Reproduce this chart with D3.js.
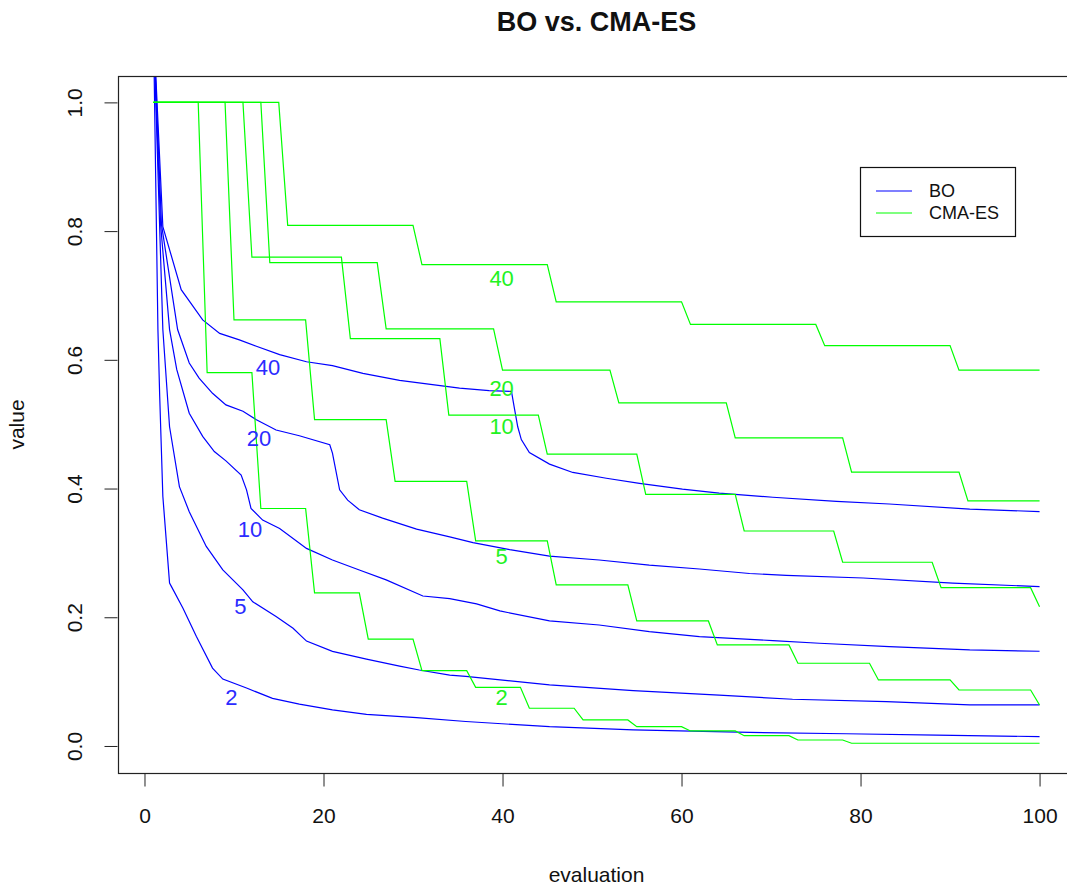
<!DOCTYPE html>
<html>
  <head>
    <meta charset="utf-8">
    <title>BO vs. CMA-ES</title>
    <style>
      body { margin: 0; background: #fff; }
      text { font-family: "Liberation Sans", Arial, sans-serif; }
    </style>
  </head>
  <body>
    <div id="vis"></div>
    <script src="https://d3js.org/d3.v7.min.js"></script>
    <script>
    // dimensions of the runs, one curve per dimension and method
    let dims = [2, 5, 10, 20, 40];

    // BO: [evaluation, value]
    let bo2 = [[1,1.12],[1.5,0.647],[1.7,0.543],[2.05,0.388],[2.8,0.253],[3,0.248],[4.3,0.214],[5.8,0.170],
      [7.6,0.121],[8.75,0.104],[11.4,0.090],[14.3,0.074],[17.3,0.065],[21,0.056],[24.8,0.049],[30.4,0.044],
      [35.9,0.038],[45.25,0.030],[54.6,0.025],[67.6,0.021],[78.4,0.019],[88.5,0.017],[100,0.0145]];
    let bo5 = [[1,1.12],[2.05,0.647],[2.8,0.496],[3.9,0.403],[5,0.364],[6.9,0.310],[8.75,0.2735],[11,0.2425],
      [12.1,0.224],[14.7,0.201],[16.6,0.183],[18.1,0.163],[21,0.147],[24.8,0.135],[28.5,0.124],[30.7,0.118],
      [34.1,0.110],[35.9,0.108],[45.25,0.095],[54.6,0.086],[64.2,0.079],[72.4,0.0726],[82.9,0.069],
      [92.2,0.064],[100,0.0637]];
    let bo10 = [[1,1.12],[1.8,0.81],[2.8,0.647],[3.6,0.585],[5,0.517],[6.5,0.481],[7.8,0.4575],[9.1,0.443],
      [10.8,0.421],[11.4,0.398],[11.9,0.369],[13.2,0.351],[15.1,0.338],[18.1,0.307],[21,0.289],[24,0.2735],
      [27,0.258],[31.1,0.233],[34.1,0.229],[37.1,0.2207],[39.7,0.2098],[45.25,0.1943],[50.8,0.188],
      [56.4,0.1777],[62,0.170],[70.2,0.1637],[75.4,0.1596],[83.2,0.1543],[92.2,0.1492],[100,0.1472]];
    let bo20 = [[1,1.12],[1.9,0.81],[3.7,0.647],[5,0.595],[6.1,0.5715],[7.6,0.548],[9.1,0.530],[11,0.520],
      [12.5,0.507],[14.7,0.491],[17.3,0.482],[20.7,0.468],[21,0.455],[21.8,0.398],[22.7,0.382],[24,0.367],
      [26.6,0.354],[30.4,0.337],[34.1,0.325],[36.7,0.316],[40.8,0.305],[45.25,0.295],[50.8,0.289],
      [56.4,0.281],[62,0.275],[67.6,0.268],[71.7,0.265],[80.3,0.261],[90.3,0.253],[100,0.2476]];
    let bo40 = [[1,1.12],[2.05,0.807],[4.1,0.709],[6.5,0.662],[8.4,0.641],[10.6,0.631],[12.5,0.621],
      [15.1,0.608],[18.1,0.597],[21,0.591],[24.4,0.579],[28.5,0.568],[35.2,0.556],[38.5,0.552],[41,0.551],
      [41.3,0.527],[41.7,0.496],[42.1,0.476],[43,0.456],[45.25,0.438],[47.85,0.425],[51.6,0.416],
      [55.3,0.408],[60.1,0.399],[64.2,0.393],[70.2,0.3865],[77.3,0.380],[83.2,0.376],[92.2,0.368],[100,0.3642]];

    // CMA-ES: best value so far, changes once per generation
    let cma2 = [[1,1],[6,1],[7,0.580],[12,0.580],[13,0.369],[18,0.369],[19,0.238],[24,0.238],[25,0.166],
      [30,0.166],[31,0.117],[36,0.117],[37,0.0912],[42,0.0912],[43,0.0586],[48,0.0586],[49,0.0404],
      [54,0.0404],[55,0.030],[60,0.030],[61,0.0233],[66,0.0233],[67,0.016],[72,0.016],[73,0.0093],
      [78,0.0093],[79,0.0042],[100,0.0042]];
    let cma5 = [[1,1],[9,1],[10,0.662],[18,0.662],[19,0.507],[27,0.507],[28,0.411],[36,0.411],[37,0.3186],
      [45,0.3186],[46,0.2502],[54,0.2502],[55,0.1943],[63,0.1943],[64,0.157],[72,0.157],[73,0.1285],
      [81,0.1285],[82,0.1026],[90,0.1026],[91,0.087],[99,0.087],[100,0.0637]];
    let cma10 = [[1,1],[11,1],[12,0.7595],[22,0.7595],[23,0.633],[33,0.633],[34,0.514],[44,0.514],
      [45,0.4534],[55,0.4534],[56,0.391],[66,0.391],[67,0.334],[77,0.334],[78,0.2855],[88,0.2855],
      [89,0.246],[99,0.246],[100,0.2165]];
    let cma20 = [[1,1],[13,1],[14,0.751],[26,0.751],[27,0.648],[39,0.648],[40,0.584],[52,0.584],
      [53,0.533],[65,0.533],[66,0.4787],[78,0.4787],[79,0.4254],[91,0.4254],[92,0.3808],[100,0.3808]];
    let cma40 = [[1,1],[15,1],[16,0.809],[30,0.809],[31,0.748],[45,0.748],[46,0.690],[60,0.690],
      [61,0.655],[75,0.655],[76,0.622],[90,0.622],[91,0.584],[100,0.584]];

    // where the dimension labels sit: [evaluation, value]
    let boLabelPos = [[9.7,0.076],[10.7,0.216],[11.8,0.337],[12.8,0.477],[13.8,0.5875]];
    let cmaLabelPos = [[39.9,0.076],[39.9,0.294],[39.9,0.496],[39.9,0.556],[39.9,0.727]];

    let xTicks = [0, 20, 40, 60, 80, 100];
    let yTicks = [0, 0.2, 0.4, 0.6, 0.8, 1.0];
    let methods = ["BO", "CMA-ES"];
    let colors = ["#0000ff", "#00ff00"];

    let boSeries = [bo2, bo5, bo10, bo20, bo40];
    let cmaSeries = [cma2, cma5, cma10, cma20, cma40];

    let w = 1067, h = 887;
    let mLeft = 118, mRight = 1075, mTop = 76, mBottom = 773;

    let x = d3.scaleLinear().domain([-2.96, 103.96]).range([mLeft, mRight]);
    let y = d3.scaleLinear().domain([-0.042, 1.041]).range([mBottom, mTop]);

    let svg = d3.select("#vis").append("svg")
                .attr("width", w)
                .attr("height", h)
                .style("background", "#fff");

    svg.append("clipPath").attr("id", "plotclip")
       .append("rect")
       .attr("x", mLeft).attr("y", mTop)
       .attr("width", mRight - mLeft).attr("height", mBottom - mTop);

    let line = d3.line()
                 .x(function(d) { return x(d[0]); })
                 .y(function(d) { return y(d[1]); });

    let plot = svg.append("g").attr("clip-path", "url(#plotclip)");

    plot.selectAll("path.bo")
        .data(boSeries)
        .enter().append("path")
        .attr("class", "bo")
        .attr("d", line)
        .style("fill", "none")
        .style("stroke", colors[0])
        .style("stroke-width", 1.2);

    plot.selectAll("path.cma")
        .data(cmaSeries)
        .enter().append("path")
        .attr("class", "cma")
        .attr("d", line)
        .style("fill", "none")
        .style("stroke", colors[1])
        .style("stroke-width", 1.2);

    // dimension labels
    plot.selectAll("text.bolab")
        .data(boLabelPos)
        .enter().append("text")
        .attr("class", "bolab")
        .attr("x", function(d) { return x(d[0]); })
        .attr("y", function(d) { return y(d[1]); })
        .attr("text-anchor", "middle")
        .attr("dominant-baseline", "central")
        .style("font-size", "22px")
        .style("fill", "#2b2bff")
        .text(function(d, i) { return dims[i]; });

    plot.selectAll("text.cmalab")
        .data(cmaLabelPos)
        .enter().append("text")
        .attr("class", "cmalab")
        .attr("x", function(d) { return x(d[0]); })
        .attr("y", function(d) { return y(d[1]); })
        .attr("text-anchor", "middle")
        .attr("dominant-baseline", "central")
        .style("font-size", "22px")
        .style("fill", "#22f222")
        .text(function(d, i) { return dims[i]; });

    // box
    svg.append("rect")
       .attr("x", mLeft + 0.5).attr("y", mTop + 0.5)
       .attr("width", mRight - mLeft).attr("height", mBottom - mTop)
       .style("fill", "none")
       .style("stroke", "#222")
       .style("stroke-width", 1.2);

    // axes, R style: ticks outside, no domain line
    let xAxis = svg.append("g")
       .attr("transform", "translate(0," + (mBottom + 0.5) + ")")
       .call(d3.axisBottom(x).tickValues(xTicks).tickSize(13).tickPadding(22).tickFormat(d3.format("d")));
    xAxis.select(".domain").remove();
    xAxis.selectAll("text").style("font-size", "21px").style("fill", "#111")
         .style("font-family", "'Liberation Sans', Arial, sans-serif");
    xAxis.selectAll("line").style("stroke", "#222");

    let yAxis = svg.append("g")
       .attr("transform", "translate(" + (mLeft - 0.5) + ",0)")
       .call(d3.axisLeft(y).tickValues(yTicks).tickSize(13).tickFormat(d3.format(".1f")));
    yAxis.select(".domain").remove();
    yAxis.selectAll("line").style("stroke", "#222");
    yAxis.selectAll("text")
         .attr("x", null).attr("dy", null)
         .attr("text-anchor", "middle")
         .attr("transform", "translate(-36,0) rotate(-90)")
         .style("font-size", "21px").style("fill", "#111")
         .style("font-family", "'Liberation Sans', Arial, sans-serif");

    // titles
    svg.append("text")
       .attr("x", (mLeft + mRight) / 2)
       .attr("y", 31)
       .attr("text-anchor", "middle")
       .style("font-size", "27px")
       .style("font-weight", "bold")
       .style("fill", "#111")
       .text("BO vs. CMA-ES");

    svg.append("text")
       .attr("x", (mLeft + mRight) / 2)
       .attr("y", 882)
       .attr("text-anchor", "middle")
       .style("font-size", "21px")
       .style("fill", "#111")
       .text("evaluation");

    svg.append("text")
       .attr("transform", "translate(24," + ((mTop + mBottom) / 2) + ") rotate(-90)")
       .attr("text-anchor", "middle")
       .style("font-size", "21px")
       .style("fill", "#111")
       .text("value");

    // legend
    let legend = svg.append("g");
    legend.append("rect")
          .attr("x", 860.5).attr("y", 167.5)
          .attr("width", 155).attr("height", 69)
          .style("fill", "#fff")
          .style("stroke", "#111")
          .style("stroke-width", 1.2);
    methods.forEach(function(m, i) {
      let ly = 191 + i * 22;
      legend.append("line")
            .attr("x1", 876).attr("x2", 912)
            .attr("y1", ly).attr("y2", ly)
            .style("stroke", colors[i])
            .style("stroke-width", 1.2);
      legend.append("text")
            .attr("x", 929).attr("y", ly)
            .attr("dominant-baseline", "central")
            .style("font-size", "18px")
            .style("fill", "#111")
            .text(m);
    });
    </script>
  </body>
</html>
